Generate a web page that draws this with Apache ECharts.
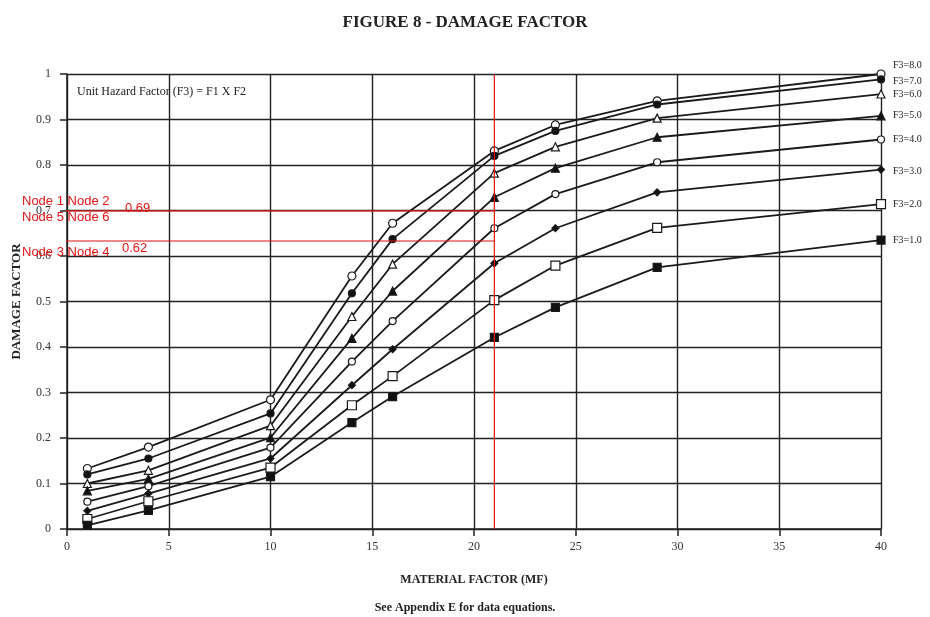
<!DOCTYPE html>
<html>
<head>
<meta charset="utf-8">
<script src="https://cdn.jsdelivr.net/npm/echarts@6/dist/echarts.min.js"></script>
<style>html,body{margin:0;padding:0;background:#fff;}#c{width:930px;height:617px;}</style>
</head>
<body>
<div id="c"></div>
<script>
// Material factor (x) values
var mf = [1, 4, 10, 14, 16, 21, 24, 29, 40];
// Damage factor for each unit hazard factor F3
var f8 = [0.133, 0.180, 0.284, 0.556, 0.672, 0.831, 0.888, 0.941, 1.000];
var f7 = [0.120, 0.155, 0.254, 0.518, 0.637, 0.820, 0.875, 0.933, 0.988];
var f6 = [0.100, 0.129, 0.227, 0.467, 0.582, 0.782, 0.840, 0.903, 0.956];
var f5 = [0.084, 0.110, 0.201, 0.419, 0.523, 0.729, 0.793, 0.861, 0.908];
var f4 = [0.060, 0.094, 0.179, 0.368, 0.457, 0.661, 0.736, 0.806, 0.856];
var f3 = [0.040, 0.078, 0.155, 0.316, 0.395, 0.584, 0.661, 0.740, 0.790];
var f2 = [0.022, 0.061, 0.135, 0.272, 0.336, 0.503, 0.579, 0.662, 0.714];
var f1 = [0.008, 0.041, 0.115, 0.234, 0.291, 0.421, 0.487, 0.575, 0.635];
var seriesNames = ['F3=8.0', 'F3=7.0', 'F3=6.0', 'F3=5.0', 'F3=4.0', 'F3=3.0', 'F3=2.0', 'F3=1.0'];
// Red annotation overlay (digitizer guide lines)
var guideX = [-2.2, 21];
var guideY1 = 0.699;
var guideY2 = 0.633;
var guideVX = 21;
var xTicks = [0, 5, 10, 15, 20, 25, 30, 35, 40];

var serif = '"Liberation Serif", "DejaVu Serif", serif';
var sans = '"Liberation Sans", Arial, sans-serif';

var allData = [f8, f7, f6, f5, f4, f3, f2, f1];
var markers = [
  {symbol: 'circle', size: 8, fill: '#fff'},
  {symbol: 'circle', size: 7, fill: '#111'},
  {symbol: 'triangle', size: 8, fill: '#fff'},
  {symbol: 'triangle', size: 8, fill: '#111'},
  {symbol: 'circle', size: 7, fill: '#fff'},
  {symbol: 'diamond', size: 7, fill: '#111'},
  {symbol: 'rect', size: 9, fill: '#fff'},
  {symbol: 'rect', size: 8, fill: '#111'}
];
var labelOffsets = [[0, -9], [0, 2], [0, 0], [0, 0], [0, 0], [0, 2], [0, 0], [0, 0]];

function pairs(ys) { return mf.map(function (x, i) { return [x, ys[i]]; }); }

var series = allData.map(function (d, i) {
  return {
    name: seriesNames[i],
    type: 'line',
    data: pairs(d),
    symbol: markers[i].symbol,
    symbolSize: markers[i].size,
    showAllSymbol: true,
    lineStyle: {color: '#1a1a1a', width: 1.8},
    itemStyle: {color: markers[i].fill, borderColor: '#1a1a1a', borderWidth: 1.2},
    endLabel: {
      show: true,
      formatter: seriesNames[i],
      fontFamily: serif,
      fontSize: 10,
      color: '#222',
      distance: 12,
      offset: labelOffsets[i]
    },
    emphasis: {disabled: true},
    z: 3
  };
});

var red = '#e01515';
series.push({
  type: 'line', data: [[guideX[0], guideY1], [guideX[1], guideY1]], clip: false,
  symbol: 'none', lineStyle: {color: red, width: 1.2}, z: 5, silent: true
});
series.push({
  type: 'line', data: [[guideX[0], guideY2], [guideX[1], guideY2]], clip: false,
  symbol: 'none', lineStyle: {color: red, width: 1.2}, z: 5, silent: true
});
series.push({
  type: 'line', data: [[guideVX, 0], [guideVX, 1]], clip: false,
  symbol: 'none', lineStyle: {color: red, width: 1.2}, z: 5, silent: true
});

var chart = echarts.init(document.getElementById('c'));
chart.setOption({
  animation: false,
  backgroundColor: '#fff',
  title: [
    {text: 'FIGURE 8 - DAMAGE FACTOR', left: 'center', top: 9,
      textStyle: {fontFamily: serif, fontSize: 17, fontWeight: 'bold', color: '#222'}},
    {text: 'See Appendix E for data equations.', left: 'center', top: 597,
      textStyle: {fontFamily: serif, fontSize: 12, fontWeight: 'bold', color: '#222'}}
  ],
  grid: {left: 67, right: 49, top: 74, bottom: 88, show: false},
  xAxis: {
    type: 'value', min: 0, max: 40, interval: 5,
    name: 'MATERIAL FACTOR (MF)', nameLocation: 'middle', nameGap: 45,
    nameTextStyle: {fontFamily: serif, fontSize: 12, fontWeight: 'bold', color: '#222'},
    axisLine: {show: true, lineStyle: {color: '#222', width: 1.5}},
    axisTick: {show: true, inside: false, length: 7, lineStyle: {color: '#222', width: 1.5}},
    axisLabel: {fontFamily: serif, fontSize: 12, color: '#333', margin: 12,
      formatter: function (v) { return xTicks.indexOf(v) >= 0 ? String(v) : ''; }},
    splitLine: {show: true, lineStyle: {color: '#222', width: 1.4}}
  },
  yAxis: {
    type: 'value', min: 0, max: 1, interval: 0.1,
    name: 'DAMAGE FACTOR', nameLocation: 'middle', nameGap: 44, nameRotate: 90,
    nameTextStyle: {fontFamily: serif, fontSize: 13, fontWeight: 'bold', color: '#222'},
    axisLine: {show: true, lineStyle: {color: '#222', width: 1.5}},
    axisTick: {show: true, inside: false, length: 7, lineStyle: {color: '#222', width: 1.5}},
    axisLabel: {fontFamily: serif, fontSize: 12, color: '#333', margin: 16,
      formatter: function (v) { return String(Math.round(v * 10) / 10); }},
    splitLine: {show: true, lineStyle: {color: '#222', width: 1.4}}
  },
  graphic: [
    {type: 'text', left: 77, top: 86, z: 10,
      style: {text: 'Unit Hazard Factor (F3) = F1 X F2', font: '12px ' + serif, fill: '#222'}},
    {type: 'text', left: 22, top: 195, z: 10,
      style: {text: 'Node 1 Node 2', font: '13px ' + sans, fill: red}},
    {type: 'text', left: 125, top: 202, z: 10,
      style: {text: '0.69', font: '13px ' + sans, fill: red}},
    {type: 'text', left: 22, top: 211, z: 10,
      style: {text: 'Node 5 Node 6', font: '13px ' + sans, fill: red}},
    {type: 'text', left: 22, top: 246, z: 10,
      style: {text: 'Node 3 Node 4', font: '13px ' + sans, fill: red}},
    {type: 'text', left: 122, top: 242, z: 10,
      style: {text: '0.62', font: '13px ' + sans, fill: red}}
  ],
  series: series
});
</script>
</body>
</html>
